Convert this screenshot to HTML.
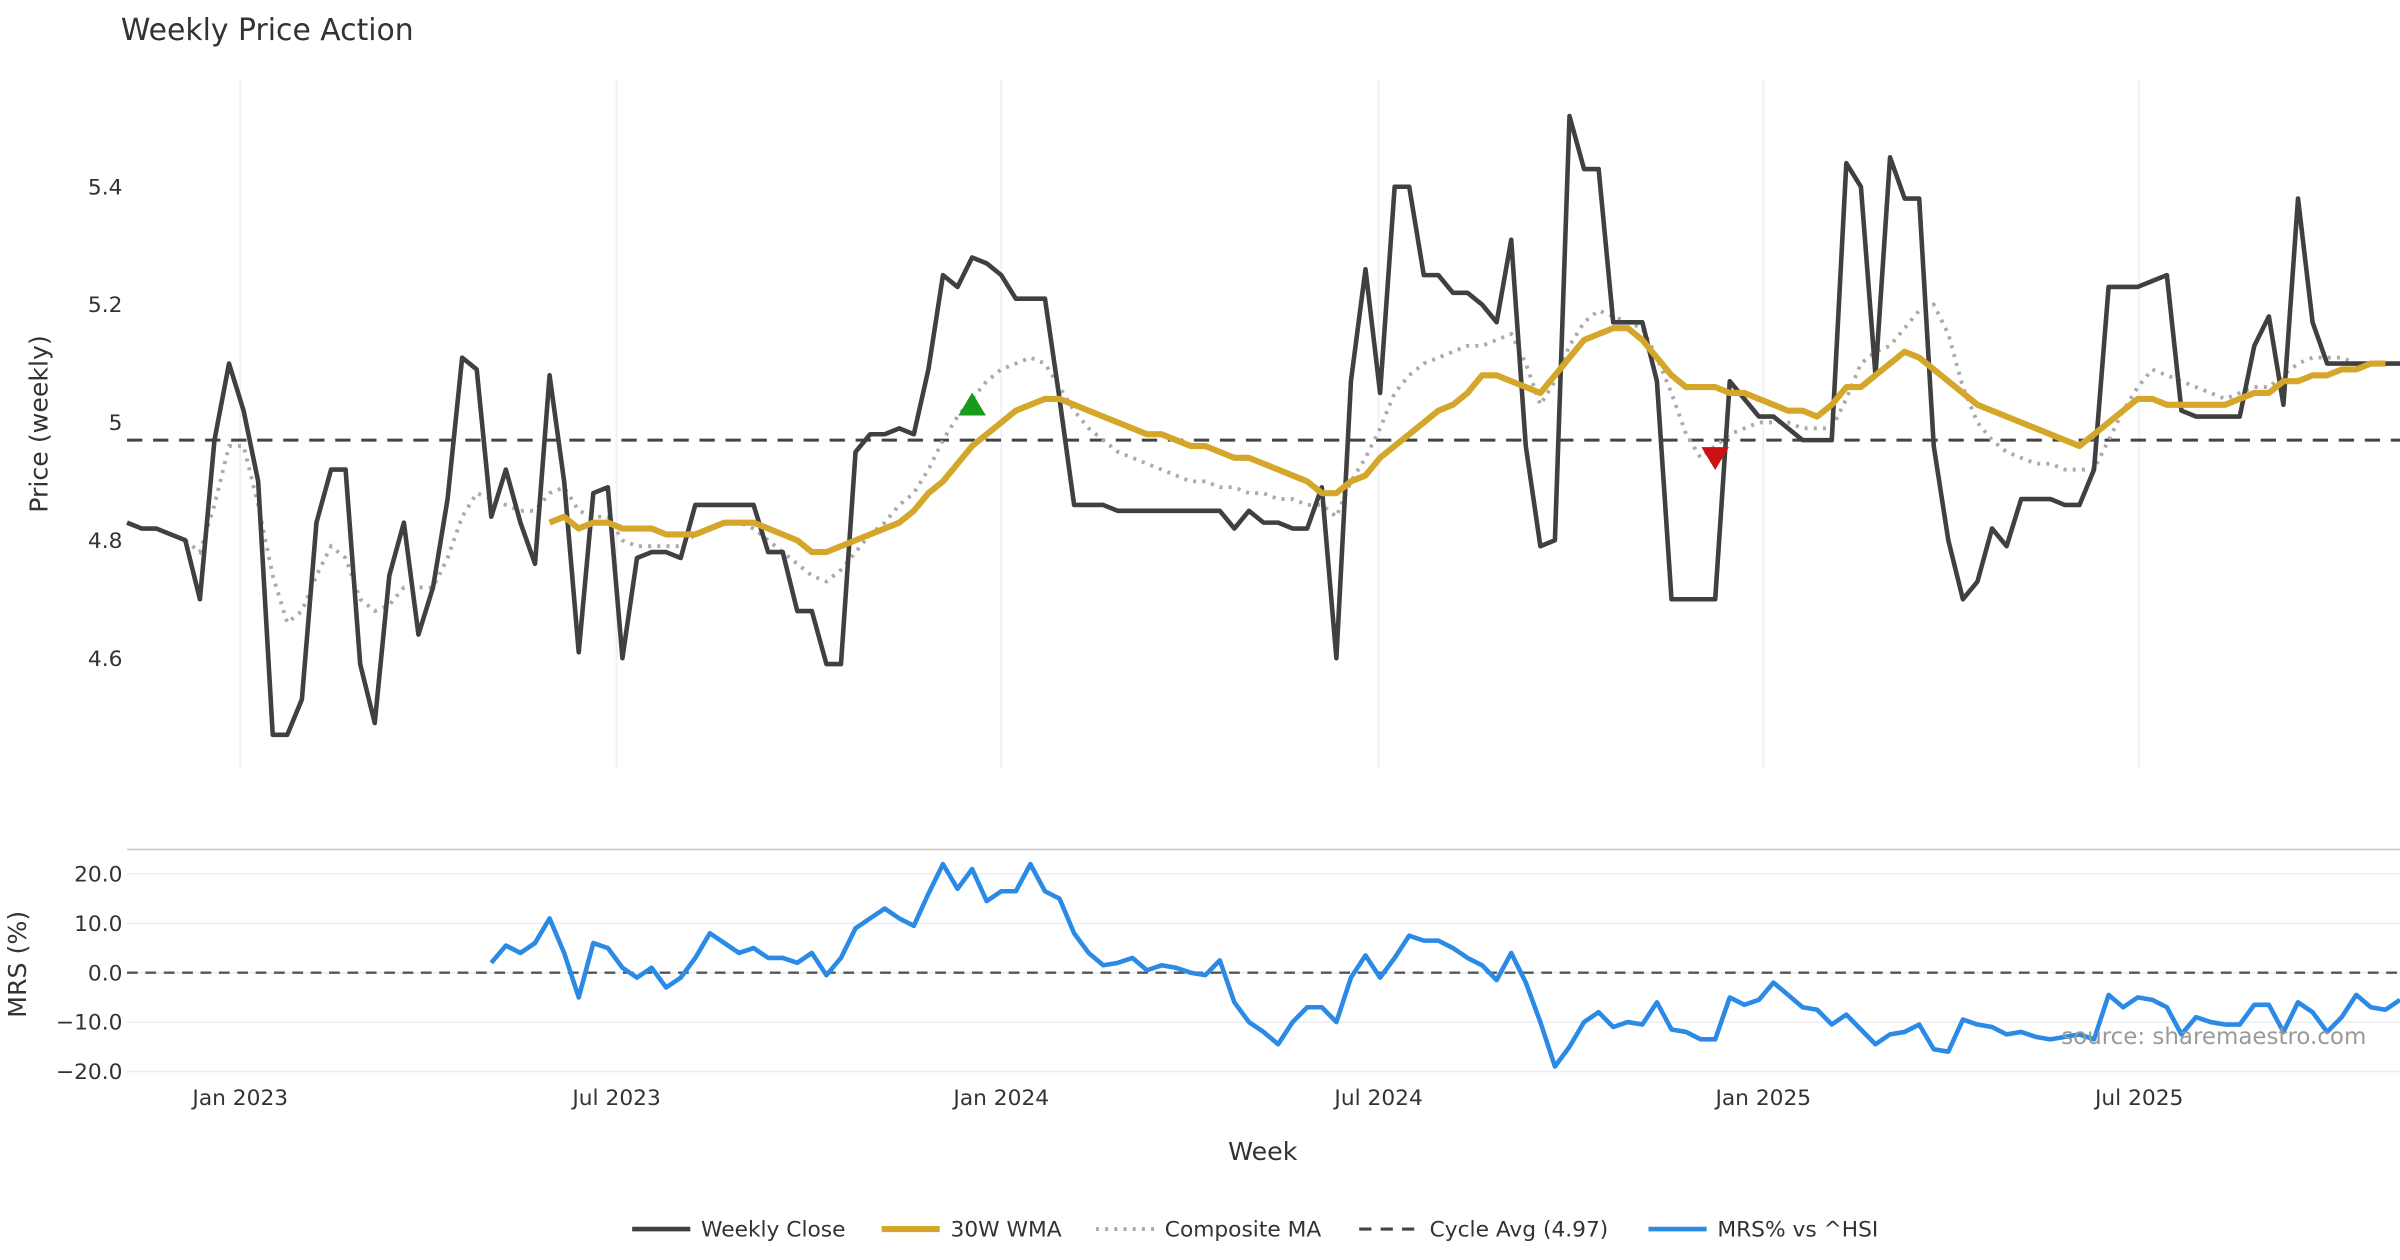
<!DOCTYPE html>
<html><head><meta charset="utf-8"><style>
html,body{margin:0;padding:0;background:#fff}
svg{display:block;font-family:"DejaVu Sans","Liberation Sans",sans-serif}
</style></head><body>
<svg id="chart" width="2400" height="1260" viewBox="0 0 1568 823.2" preserveAspectRatio="none" xmlns="http://www.w3.org/2000/svg">
<rect width="1568" height="823.2" fill="#fff"/>
<text x="79" y="26" font-size="19.5" fill="#333">Weekly Price Action</text>
<g id="grid"></g>
<g id="axes"></g>
<g id="series"></g>
<text transform="translate(31,277) rotate(-90)" text-anchor="middle" font-size="16.5" fill="#333">Price (weekly)</text>
<text transform="translate(17,630) rotate(-90)" text-anchor="middle" font-size="16.5" fill="#333">MRS (%)</text>
<text x="825" y="758" text-anchor="middle" font-size="16.5" fill="#333">Week</text>
<text x="1546" y="682" text-anchor="end" font-size="15" fill="#999">source: sharemaestro.com</text>
<g font-size="14.2" fill="#333">
 <g><line x1="413" y1="803" x2="451" y2="803" stroke="#404040" stroke-width="3"/><text x="458" y="808">Weekly Close</text></g>
 <g><line x1="576" y1="803" x2="614" y2="803" stroke="#d4a62a" stroke-width="4"/><text x="621" y="808">30W WMA</text></g>
 <g><line x1="716" y1="803" x2="754" y2="803" stroke="#aaa" stroke-width="2.5" stroke-dasharray="2,4"/><text x="761" y="808">Composite MA</text></g>
 <g><line x1="888" y1="803" x2="926" y2="803" stroke="#444" stroke-width="2" stroke-dasharray="8,6"/><text x="934" y="808">Cycle Avg (4.97)</text></g>
 <g><line x1="1077" y1="803" x2="1115" y2="803" stroke="#2a8ae6" stroke-width="3"/><text x="1122" y="808">MRS% vs ^HSI</text></g>
</g>
</svg>
<script>
const closeVals=[4.83,4.82,4.82,4.81,4.80,4.70,4.97,5.10,5.02,4.90,4.47,4.47,4.53,4.83,4.92,4.92,4.59,4.49,4.74,4.83,4.64,4.72,4.87,5.11,5.09,4.84,4.92,4.83,4.76,5.08,4.90,4.61,4.88,4.89,4.60,4.77,4.78,4.78,4.77,4.86,4.86,4.86,4.86,4.86,4.78,4.78,4.68,4.68,4.59,4.59,4.95,4.98,4.98,4.99,4.98,5.09,5.25,5.23,5.28,5.27,5.25,5.21,5.21,5.21,5.04,4.86,4.86,4.86,4.85,4.85,4.85,4.85,4.85,4.85,4.85,4.85,4.82,4.85,4.83,4.83,4.82,4.82,4.89,4.60,5.07,5.26,5.05,5.40,5.40,5.25,5.25,5.22,5.22,5.20,5.17,5.31,4.96,4.79,4.80,5.52,5.43,5.43,5.17,5.17,5.17,5.07,4.70,4.70,4.70,4.70,5.07,5.04,5.01,5.01,4.99,4.97,4.97,4.97,5.44,5.40,5.08,5.45,5.38,5.38,4.96,4.80,4.70,4.73,4.82,4.79,4.87,4.87,4.87,4.86,4.86,4.92,5.23,5.23,5.23,5.24,5.25,5.02,5.01,5.01,5.01,5.01,5.13,5.18,5.03,5.38,5.17,5.10,5.10,5.10,5.10,5.10,5.10];
const wmaStart=29;
const wmaVals=[4.83,4.84,4.82,4.83,4.83,4.82,4.82,4.82,4.81,4.81,4.81,4.82,4.83,4.83,4.83,4.82,4.81,4.80,4.78,4.78,4.79,4.80,4.81,4.82,4.83,4.85,4.88,4.90,4.93,4.96,4.98,5.00,5.02,5.03,5.04,5.04,5.03,5.02,5.01,5.00,4.99,4.98,4.98,4.97,4.96,4.96,4.95,4.94,4.94,4.93,4.92,4.91,4.90,4.88,4.88,4.90,4.91,4.94,4.96,4.98,5.00,5.02,5.03,5.05,5.08,5.08,5.07,5.06,5.05,5.08,5.11,5.14,5.15,5.16,5.16,5.14,5.11,5.08,5.06,5.06,5.06,5.05,5.05,5.04,5.03,5.02,5.02,5.01,5.03,5.06,5.06,5.08,5.10,5.12,5.11,5.09,5.07,5.05,5.03,5.02,5.01,5.00,4.99,4.98,4.97,4.96,4.98,5.00,5.02,5.04,5.04,5.03,5.03,5.03,5.03,5.03,5.04,5.05,5.05,5.07,5.07,5.08,5.08,5.09,5.09,5.10,5.10];
const compStart=4;
const compVals=[4.80,4.78,4.86,4.96,4.96,4.86,4.74,4.66,4.68,4.74,4.79,4.77,4.70,4.68,4.69,4.72,4.72,4.72,4.77,4.84,4.88,4.87,4.86,4.85,4.85,4.88,4.89,4.85,4.84,4.84,4.80,4.79,4.79,4.79,4.79,4.81,4.82,4.83,4.83,4.82,4.80,4.78,4.76,4.74,4.73,4.75,4.78,4.81,4.83,4.86,4.88,4.92,4.97,5.01,5.04,5.07,5.09,5.10,5.11,5.10,5.06,5.02,4.99,4.97,4.95,4.94,4.93,4.92,4.91,4.90,4.90,4.89,4.89,4.88,4.88,4.87,4.87,4.86,4.86,4.84,4.90,4.94,4.99,5.05,5.08,5.10,5.11,5.12,5.13,5.13,5.14,5.15,5.10,5.03,5.07,5.13,5.17,5.19,5.18,5.17,5.16,5.11,5.05,4.98,4.94,4.96,4.98,4.99,5.00,5.00,5.00,4.99,4.99,4.99,5.04,5.10,5.12,5.13,5.16,5.19,5.20,5.15,5.06,5.00,4.97,4.95,4.94,4.93,4.93,4.92,4.92,4.92,4.97,5.02,5.06,5.09,5.08,5.07,5.06,5.05,5.04,5.05,5.06,5.06,5.08,5.10,5.11,5.11,5.11,5.10,5.10,5.10,5.10];
const mrsStart=25;
const mrsVals=[2,5.5,4,6,11,4,-5,6,5,1,-1,1,-3,-1,3,8,6,4,5,3,3,2,4,-0.5,3,9,11,13,11,9.5,16,22,17,21,14.5,16.5,16.5,22,16.5,15,8,4,1.5,2,3,0.5,1.5,1,0,-0.5,2.5,-6,-10,-12,-14.5,-10,-7,-7,-10,-1,3.5,-1,3,7.5,6.5,6.5,5,3,1.5,-1.5,4,-2,-10,-19,-15,-10,-8,-11,-10,-10.5,-6,-11.5,-12,-13.5,-13.5,-5,-6.5,-5.5,-2,-4.5,-7,-7.5,-10.5,-8.5,-11.5,-14.5,-12.5,-12,-10.5,-15.5,-16,-9.5,-10.5,-11,-12.5,-12,-13,-13.5,-13,-12.5,-13.5,-4.5,-7,-5,-5.5,-7,-12.5,-9,-10,-10.5,-10.5,-6.5,-6.5,-12,-6,-8,-12,-9,-4.5,-7,-7.5,-5.5];
const cycleAvg=4.97;
const priceTicks=[4.6,4.8,5.0,5.2,5.4];
const priceTickLabels=["4.6","4.8","5","5.2","5.4"];
const mrsTicks=[20,10,0,-10,-20];
const mrsTickLabels=["20.0","10.0","0.0","\u221210.0","\u221220.0"];
const xTickWeeks=[7.77,33.6,60.0,85.9,112.3,138.1];
const xTickLabels=["Jan 2023","Jul 2023","Jan 2024","Jul 2024","Jan 2025","Jul 2025"];
const buySignal={week:58,value:5.03};
const sellSignal={week:109,value:4.94};

const NS="http://www.w3.org/2000/svg";
const X0=83,X1=1568,N=closeVals.length;
function x(i){return X0+i*(X1-X0)/(N-1);}
function yP(v){return 122+(5.4-v)*385;}
function yM(v){return 635.5-v*3.225;}
function mk(tag,attrs,parent){const e=document.createElementNS(NS,tag);for(const k in attrs)e.setAttribute(k,attrs[k]);parent.appendChild(e);return e;}
const grid=document.getElementById('grid'),axes=document.getElementById('axes'),ser=document.getElementById('series');

xTickWeeks.forEach((w,k)=>{
  const g=mk('line',{x1:x(w),x2:x(w),y1:52,y2:502,stroke:'#eef0f3','stroke-width':1.2},grid);
  
  
  const t=mk('text',{x:x(w),y:722,'text-anchor':'middle','font-size':14.2,fill:'#333'},axes);
  t.textContent=xTickLabels[k];
  
  
});
priceTicks.forEach((v,k)=>{
  const t=mk('text',{x:80,y:yP(v)+5,'text-anchor':'end','font-size':14.2,fill:'#333'},axes);
  t.textContent=priceTickLabels[k];
  
  
});
const sep=mk('line',{x1:X0,x2:X1,y1:555,y2:555,stroke:'#ccc','stroke-width':1.2},grid);


mrsTicks.forEach((v,k)=>{
  const g=mk('line',{x1:X0,x2:X1,y1:yM(v),y2:yM(v),stroke:'#eceef1','stroke-width':1},grid);
  
  
  const t=mk('text',{x:80,y:yM(v)+5,'text-anchor':'end','font-size':14.2,fill:'#333'},axes);
  t.textContent=mrsTickLabels[k];
  
  
});
const zl=mk('line',{x1:X0,x2:X1,y1:yM(0),y2:yM(0),stroke:'#555','stroke-width':1.5,'stroke-dasharray':'7,5'},ser);


const ca=mk('line',{x1:X0,x2:X1,y1:yP(cycleAvg),y2:yP(cycleAvg),stroke:'#444','stroke-width':2,'stroke-dasharray':'10,7'},ser);



function pts(vals,start,yf){return vals.map((v,j)=>x(start+j).toFixed(2)+','+yf(v).toFixed(2)).join(' ');}
const cmp=mk('polyline',{points:pts(compVals,compStart,yP),fill:'none',stroke:'#aaa','stroke-width':2.5,'stroke-dasharray':'2,4'},ser);


const cl=mk('polyline',{points:pts(closeVals,0,yP),fill:'none',stroke:'#404040','stroke-width':3,'stroke-linejoin':'round'},ser);


const wm=mk('polyline',{points:pts(wmaVals,wmaStart,yP),fill:'none',stroke:'#d4a62a','stroke-width':4,'stroke-linejoin':'round'},ser);


const mr=mk('polyline',{points:pts(mrsVals,mrsStart,yM),fill:'none',stroke:'#2a8ae6','stroke-width':3,'stroke-linejoin':'round'},ser);



const bx=x(buySignal.week),by=yP(buySignal.value);
const bt=mk('polygon',{points:`${bx-9},${by+7} ${bx+9},${by+7} ${bx},${by-8}`,fill:'#1a9a1a'},ser);


const sx=x(sellSignal.week),sy=yP(sellSignal.value);
const st=mk('polygon',{points:`${sx-9},${sy-7} ${sx+9},${sy-7} ${sx},${sy+8}`,fill:'#cc1111'},ser);


</script>
</body></html>
